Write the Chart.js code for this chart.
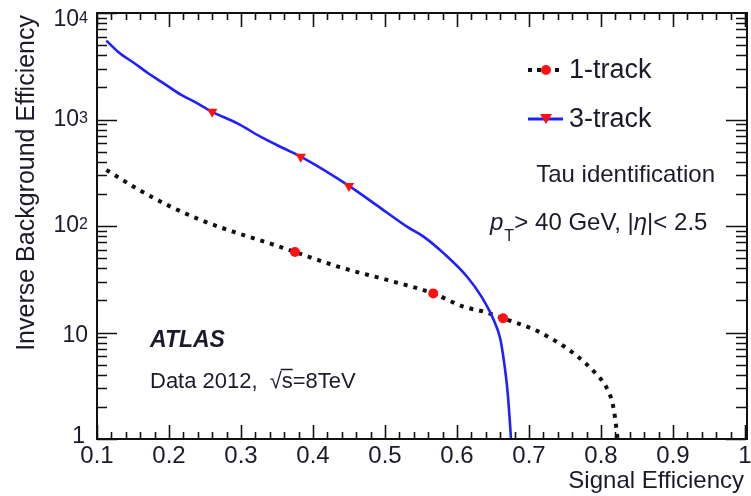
<!DOCTYPE html>
<html>
<head>
<meta charset="utf-8">
<script src="https://cdn.jsdelivr.net/npm/chart.js@4.4.1/dist/chart.umd.min.js"></script>
<style>
  html, body { margin: 0; padding: 0; background: #fff; }
  #wrap { width: 751px; height: 496px; }
</style>
</head>
<body>
<div id="wrap"><canvas id="tauChart" width="751" height="496"></canvas></div>
<script>
// 1-track curve (black dotted)
const track1X = [0.113, 0.157, 0.198, 0.244, 0.290, 0.336, 0.375, 0.435, 0.504, 0.567, 0.609, 0.637, 0.664, 0.712, 0.733, 0.756, 0.779, 0.793, 0.807, 0.816, 0.820, 0.823];
const track1Y = [336, 221, 157, 114, 88, 70, 57, 41.5, 31, 23.3, 17.5, 15.7, 13.6, 10.3, 8.6, 6.85, 5.1, 4.1, 3.1, 2.16, 1.5, 1.0];
// 3-track curve (blue)
const track3X = [0.113, 0.129, 0.152, 0.171, 0.189, 0.217, 0.235, 0.260, 0.295, 0.327, 0.359, 0.383, 0.450, 0.494, 0.531, 0.554, 0.582, 0.614, 0.634, 0.651, 0.660, 0.665, 0.670, 0.673, 0.675];
const track3Y = [5500, 4330, 3370, 2720, 2270, 1700, 1470, 1180, 920, 690, 537, 448, 238, 147, 98, 79, 55, 33.4, 21.7, 13.1, 8.8, 5.5, 2.9, 1.6, 1.0];
// marker points on the curves
const mark1X = [0.375, 0.567, 0.664];
const mark1Y = [57, 23.3, 13.6];
const mark3X = [0.260, 0.383, 0.450];
const mark3Y = [1180, 448, 238];
// axis ticks
const xMajor = [0.1, 0.2, 0.3, 0.4, 0.5, 0.6, 0.7, 0.8, 0.9, 1.0];
const xLabels = ['0.1', '0.2', '0.3', '0.4', '0.5', '0.6', '0.7', '0.8', '0.9', '1'];
const yMajor = [1, 10, 100, 1000, 10000];
const yExp = ['', '', '2', '3', '4'];
const yBase = ['1', '10', '10', '10', '10'];

const FONT = '"Liberation Sans", Arial, sans-serif';
const toPts = (xs, ys) => xs.map((x, i) => ({ x: x, y: ys[i] }));

// ROOT-like frame, inward ticks, labels and annotations
const framePlugin = {
    id: 'frame',
    afterDraw(chart) {
        const c = chart.ctx;
        const a = chart.chartArea;
        const sx = chart.scales.x, sy = chart.scales.y;
        c.save();
        c.strokeStyle = '#111';
        c.lineWidth = 2;
        // right edge of the frame sits just past the picture
        c.strokeRect(a.left, a.top, a.right - a.left + 2, a.bottom - a.top);

        // x ticks (bottom + top)
        c.lineWidth = 1.6;
        c.beginPath();
        for (let i = 0; i <= 45; i++) {
            const v = 0.1 + i * 0.02;
            const px = Math.round(sx.getPixelForValue(v)) + 0.5;
            const len = i % 5 === 0 ? 14 : 7;
            c.moveTo(px, a.bottom); c.lineTo(px, a.bottom - len);
            c.moveTo(px, a.top); c.lineTo(px, a.top + len);
        }
        // y ticks (left + right)
        for (let d = 0; d < 4; d++) {
            for (let m = 1; m <= 9; m++) {
                const v = m * Math.pow(10, d);
                const py = Math.round(sy.getPixelForValue(v)) + 0.5;
                const len = m === 1 ? 20 : 10;
                c.moveTo(a.left, py); c.lineTo(a.left + len, py);
                c.moveTo(a.right + 1, py); c.lineTo(a.right + 1 - len, py);
            }
        }
        const pTop = Math.round(sy.getPixelForValue(10000)) + 0.5;
        c.moveTo(a.left, pTop); c.lineTo(a.left + 20, pTop);
        c.stroke();

        c.fillStyle = '#1a1a2a';
        // x tick labels
        c.font = '24px ' + FONT;
        c.textAlign = 'center';
        c.textBaseline = 'middle';
        xMajor.forEach((v, i) => {
            c.fillText(xLabels[i], sx.getPixelForValue(v), a.bottom + 17);
        });
        // y tick labels with superscripts
        yMajor.forEach((v, i) => {
            let py = Math.max(sy.getPixelForValue(v), a.top + 7);
            c.textAlign = 'right';
            c.textBaseline = 'middle';
            if (yExp[i]) {
                c.font = '23px ' + FONT;
                c.fillText(yBase[i], a.left - 18, py);
                c.font = '16px ' + FONT;
                c.textBaseline = 'alphabetic';
                c.fillText(yExp[i], a.left - 9, py + 3);
            } else {
                c.font = '23px ' + FONT;
                c.fillText(yBase[i], a.left - (i === 0 ? 12 : 9), py - (i === 0 ? 2 : -3));
            }
        });

        // axis titles
        c.font = '24px ' + FONT;
        c.textAlign = 'right';
        c.textBaseline = 'middle';
        c.fillText('Signal Efficiency', a.right - 1, a.bottom + 42);
        c.save();
        c.translate(27, a.top + 2);
        c.rotate(-Math.PI / 2);
        c.font = '25px ' + FONT;
        c.fillText('Inverse Background Efficiency', 0, 0);
        c.restore();

        // legend
        c.lineWidth = 4;
        c.strokeStyle = '#111';
        c.setLineDash([4, 5]);
        c.beginPath(); c.moveTo(528, 70); c.lineTo(562, 70); c.stroke();
        c.setLineDash([]);
        c.strokeStyle = '#1f1fff';
        c.lineWidth = 3;
        c.beginPath(); c.moveTo(528, 119); c.lineTo(563, 119); c.stroke();
        c.fillStyle = '#ff1010';
        c.beginPath(); c.arc(546, 70, 5, 0, Math.PI * 2); c.fill();
        c.beginPath(); c.moveTo(540, 114); c.lineTo(552, 114); c.lineTo(546, 124); c.closePath(); c.fill();

        c.fillStyle = '#1a1a2a';
        c.font = '27px ' + FONT;
        c.textAlign = 'left';
        c.fillText('1-track', 569, 71);
        c.fillText('3-track', 569, 120);

        // annotations
        c.font = '24px ' + FONT;
        c.textAlign = 'right';
        c.fillText('Tau identification', 715, 175);

        c.textAlign = 'left';
        c.textBaseline = 'alphabetic';
        let x = 490;
        const base = 230;
        c.font = 'italic 24px ' + FONT;
        c.fillText('p', x, base);
        x += c.measureText('p').width + 2;
        c.font = '16px ' + FONT;
        c.fillText('T', x - 1, base + 11);
        x += 9;
        c.font = '24px ' + FONT;
        const s1 = '> 40 GeV, |';
        c.fillText(s1, x, base);
        x += c.measureText(s1).width;
        c.font = 'italic 24px ' + FONT;
        c.fillText('\u03B7', x, base);
        x += c.measureText('\u03B7').width;
        c.font = '24px ' + FONT;
        c.fillText('|< 2.5', x, base);

        c.font = 'bold italic 23px ' + FONT;
        c.fillText('ATLAS', 150, 347);

        c.font = '22px ' + FONT;
        const s2 = 'Data 2012,';
        c.fillText(s2, 150, 388);
        let xr = 150 + c.measureText(s2).width + 12;
        c.fillText('\u221A', xr, 388);
        xr += c.measureText('\u221A').width;
        c.fillText('s=8TeV', xr, 388);
        const sw = c.measureText('s').width;
        c.lineWidth = 1.5;
        c.strokeStyle = '#1a1a2a';
        c.beginPath(); c.moveTo(xr - 1, 369.5); c.lineTo(xr + sw, 369.5); c.stroke();
        c.restore();
    }
};

const ctx = document.getElementById('tauChart').getContext('2d');
const chart = new Chart(ctx, {
    type: 'line',
    data: {
        datasets: [
            {
                label: '1-track markers',
                data: toPts(mark1X, mark1Y),
                showLine: false,
                pointStyle: 'circle',
                pointRadius: 5,
                backgroundColor: '#ff1010',
                borderColor: '#ff1010',
                borderWidth: 0,
                order: 0
            },
            {
                label: '3-track markers',
                data: toPts(mark3X, mark3Y),
                showLine: false,
                pointStyle: 'triangle',
                pointRotation: 180,
                pointRadius: 6,
                backgroundColor: '#ff1010',
                borderColor: '#ff1010',
                borderWidth: 0,
                order: 0
            },
            {
                label: '1-track',
                data: toPts(track1X, track1Y),
                borderColor: '#111',
                borderWidth: 4,
                borderDash: [4, 6],
                borderCapStyle: 'butt',
                pointRadius: 0,
                cubicInterpolationMode: 'monotone',
                fill: false,
                order: 2
            },
            {
                label: '3-track',
                data: toPts(track3X, track3Y),
                borderColor: '#1f1fff',
                borderWidth: 2.6,
                pointRadius: 0,
                cubicInterpolationMode: 'monotone',
                fill: false,
                order: 1
            }
        ]
    },
    options: {
        responsive: false,
        animation: false,
        layout: { padding: { top: 13, right: 0, bottom: 0, left: 0 } },
        plugins: {
            legend: { display: false },
            tooltip: { enabled: false }
        },
        scales: {
            x: {
                type: 'linear',
                min: 0.1,
                max: 1.0,
                grid: { display: false },
                border: { display: false },
                ticks: { display: false },
                afterFit: s => { s.height = 57; }
            },
            y: {
                type: 'logarithmic',
                min: 1,
                max: 10000,
                grid: { display: false },
                border: { display: false },
                ticks: { display: false },
                afterFit: s => { s.width = 97; }
            }
        }
    },
    plugins: [framePlugin]
});
</script>
</body>
</html>
